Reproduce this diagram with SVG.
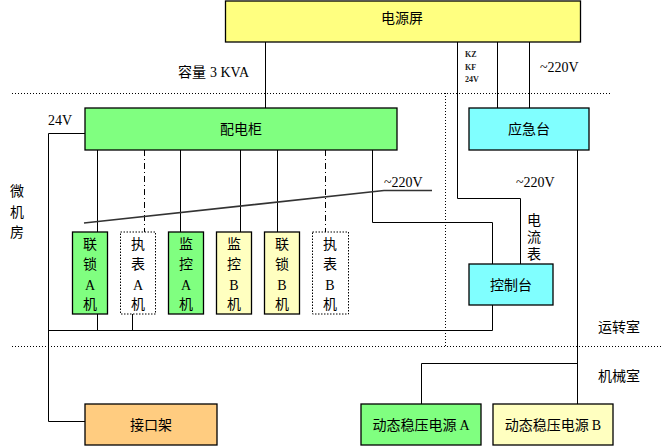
<svg xmlns="http://www.w3.org/2000/svg" width="672" height="446" viewBox="0 0 672 446">
<style>
.box{stroke:#000;stroke-width:1.3}
.y{fill:#FFFF80}.g{fill:#80FF80}.c{fill:#80FFFF}.ly{fill:#FFFFC0}.o{fill:#FFCC80}.w{fill:#fff}
.dot{stroke-dasharray:1.5 1.5}
.cn{font-family:"Noto Sans CJK SC","Liberation Sans",sans-serif;font-size:14px;fill:#000}
.se{font-family:"Liberation Serif","DejaVu Serif",serif;font-size:14px;fill:#000}
.sm{font-family:"Liberation Serif","DejaVu Serif",serif;font-size:8px;font-weight:bold;fill:#222}
.ln{fill:none;stroke:#000;stroke-width:1}
.dl{fill:none;stroke:#000;stroke-width:1;stroke-dasharray:1 2}
.dd{fill:none;stroke:#000;stroke-width:1;stroke-dasharray:6 3 1 3}
</style>
<g id="zones">
<line class="dl" x1="12" y1="93.5" x2="612" y2="93.5"/>
<line class="dl" x1="12" y1="346.5" x2="661" y2="346.5"/>
<line class="dl" x1="445.5" y1="93" x2="445.5" y2="347"/>
<text class="cn" x="17" y="196" text-anchor="middle">微</text>
<text class="cn" x="17" y="217" text-anchor="middle">机</text>
<text class="cn" x="17" y="237" text-anchor="middle">房</text>
<text class="cn" x="619" y="332" text-anchor="middle">运转室</text>
<text class="cn" x="619" y="381" text-anchor="middle">机械室</text>
</g>
<g id="connectors">
<line class="ln" x1="265.5" y1="42" x2="265.5" y2="108"/>
<polyline class="ln" points="457.5,42 457.5,198.5 520.5,198.5 520.5,264"/>
<line class="ln" x1="497.5" y1="42" x2="497.5" y2="108"/>
<line class="ln" x1="529.5" y1="42" x2="529.5" y2="108"/>
<polyline class="ln" points="85,133.5 48.5,133.5 48.5,421.5 85,421.5"/>
<line class="ln" x1="97.5" y1="150" x2="97.5" y2="232"/>
<line class="dd" x1="144.5" y1="150" x2="144.5" y2="232"/>
<line class="ln" x1="180.5" y1="150" x2="180.5" y2="232"/>
<line class="ln" x1="240.5" y1="150" x2="240.5" y2="232"/>
<line class="ln" x1="277.5" y1="150" x2="277.5" y2="232"/>
<line class="dd" x1="325.5" y1="150" x2="325.5" y2="232"/>
<polyline class="ln" points="372.5,150 372.5,222.5 492.5,222.5 492.5,264"/>
<polyline points="84,223 384,190.5 432,190.5" fill="none" stroke="#333" stroke-width="1.6"/>
<polyline class="ln" points="492.5,305 492.5,330.5 48.5,330.5"/>
<line class="ln" x1="97.5" y1="314" x2="97.5" y2="330.5"/>
<line class="ln" x1="132.5" y1="314" x2="132.5" y2="330.5"/>
<line class="ln" x1="577.5" y1="150" x2="577.5" y2="404"/>
<polyline class="ln" points="577.5,363.5 421.5,363.5 421.5,404"/>
<text class="cn" x="178" y="77">容量<tspan class="se" dx="4">3 KVA</tspan></text>
<text class="sm" x="465" y="57">KZ</text>
<text class="sm" x="465" y="70">KF</text>
<text class="sm" x="465" y="82">24V</text>
<text class="se" x="540" y="72">~220V</text>
<text class="se" x="48" y="125">24V</text>
<text class="se" x="384" y="187">~220V</text>
<text class="se" x="516" y="187">~220V</text>
<text class="cn" x="534" y="213" font-size="12" writing-mode="vertical-rl" letter-spacing="3">电流表</text>
</g>
<g id="dianyuanping"><rect class="box y" x="225.5" y="1" width="355" height="41"/><text class="cn" x="402" y="23" text-anchor="middle">电源屏</text></g>
<g id="peidiangui"><rect class="box g" x="85" y="108" width="312" height="42"/><text class="cn" x="241" y="134" text-anchor="middle">配电柜</text></g>
<g id="yingjitai"><rect class="box c" x="469" y="108" width="120" height="42"/><text class="cn" x="529" y="134" text-anchor="middle">应急台</text></g>
<g id="kongzhitai"><rect class="box c" x="469" y="264" width="84" height="41"/><text class="cn" x="511" y="290" text-anchor="middle">控制台</text></g>
<g id="liansuoA"><rect class="box g" x="72.5" y="232" width="35" height="82"/>
<text class="cn" x="90" y="249" text-anchor="middle">联</text><text class="cn" x="90" y="269" text-anchor="middle">锁</text><text class="se" x="90" y="290" text-anchor="middle">A</text><text class="cn" x="90" y="309" text-anchor="middle">机</text></g>
<g id="zhibiaoA"><rect class="w dot" stroke="#000" stroke-width="1" x="120.5" y="232" width="35" height="82"/>
<text class="cn" x="138" y="249" text-anchor="middle">执</text><text class="cn" x="138" y="269" text-anchor="middle">表</text><text class="se" x="138" y="290" text-anchor="middle">A</text><text class="cn" x="138" y="309" text-anchor="middle">机</text></g>
<g id="jiankongA"><rect class="box g" x="168.5" y="232" width="35" height="82"/>
<text class="cn" x="186" y="249" text-anchor="middle">监</text><text class="cn" x="186" y="269" text-anchor="middle">控</text><text class="se" x="186" y="290" text-anchor="middle">A</text><text class="cn" x="186" y="309" text-anchor="middle">机</text></g>
<g id="jiankongB"><rect class="box ly" x="216.5" y="232" width="35" height="82"/>
<text class="cn" x="234" y="249" text-anchor="middle">监</text><text class="cn" x="234" y="269" text-anchor="middle">控</text><text class="se" x="234" y="290" text-anchor="middle">B</text><text class="cn" x="234" y="309" text-anchor="middle">机</text></g>
<g id="liansuoB"><rect class="box ly" x="264.5" y="232" width="35" height="82"/>
<text class="cn" x="282" y="249" text-anchor="middle">联</text><text class="cn" x="282" y="269" text-anchor="middle">锁</text><text class="se" x="282" y="290" text-anchor="middle">B</text><text class="cn" x="282" y="309" text-anchor="middle">机</text></g>
<g id="zhibiaoB"><rect class="w dot" stroke="#000" stroke-width="1" x="312.5" y="232" width="36" height="82"/>
<text class="cn" x="330" y="249" text-anchor="middle">执</text><text class="cn" x="330" y="269" text-anchor="middle">表</text><text class="se" x="330" y="290" text-anchor="middle">B</text><text class="cn" x="330" y="309" text-anchor="middle">机</text></g>
<g id="jiekoujia"><rect class="box o" x="85" y="404" width="132" height="41"/><text class="cn" x="151" y="430" text-anchor="middle">接口架</text></g>
<g id="wenyaA"><rect class="box g" x="361" y="404" width="120" height="41"/><text class="cn" x="421" y="430" text-anchor="middle">动态稳压电源<tspan class="se" dx="3">A</tspan></text></g>
<g id="wenyaB"><rect class="box ly" x="493" y="404" width="120" height="41"/><text class="cn" x="553" y="430" text-anchor="middle">动态稳压电源<tspan class="se" dx="3">B</tspan></text></g>
</svg>
